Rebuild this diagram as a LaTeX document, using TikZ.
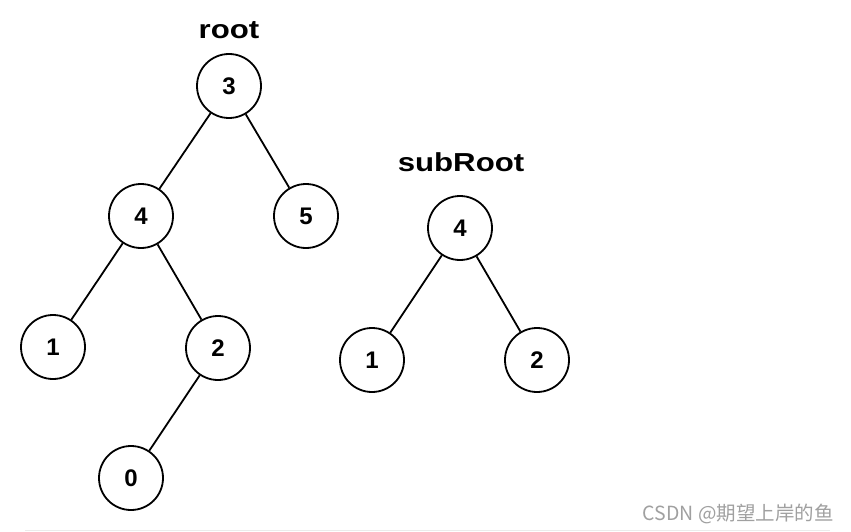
\documentclass[tikz,border=0pt]{standalone}
\usepackage{fontspec}
\setmainfont{Liberation Sans}
\newfontfamily\labfont[FakeStretch=1.2]{Liberation Sans}
\newfontfamily\cjk{Noto Sans CJK SC}
\definecolor{wmgray}{RGB}{160,160,160}
\definecolor{linegray}{RGB}{235,235,235}
\begin{document}
\begin{tikzpicture}[x=1pt,y=-1pt,
  tn/.style={circle,draw=black,line width=1.8pt,minimum size=64pt,inner sep=0pt,
    font=\fontsize{24}{24}\selectfont\bfseries},
  lbl/.style={font=\fontsize{26}{26}\selectfont\labfont\bfseries,inner sep=0pt},
  edge/.style={line width=1.8pt,draw=black}]
\useasboundingbox[fill=white] (0,0) rectangle (851,532);
\node[lbl] (rootlbl) at (229,30) {root};
\node[tn] (r3) at (229,86) {3};
\node[tn] (r4) at (141,216) {4};
\node[tn] (r5) at (306,216) {5};
\node[tn] (r1) at (53,347) {1};
\node[tn] (r2) at (218,348) {2};
\node[tn] (r0) at (131,478) {0};
\draw[edge] (r3) -- (r4);
\draw[edge] (r3) -- (r5);
\draw[edge] (r4) -- (r1);
\draw[edge] (r4) -- (r2);
\draw[edge] (r2) -- (r0);
\node[lbl] (sublbl) at (461,162) {subRoot};
\node[tn] (s4) at (460,228) {4};
\node[tn] (s1) at (372,360) {1};
\node[tn] (s2) at (537,360) {2};
\draw[edge] (s4) -- (s1);
\draw[edge] (s4) -- (s2);
\node[font=\fontsize{19.5}{19.5}\selectfont\cjk,text=wmgray,anchor=east,inner sep=0pt] (wm) at (834,514) {CSDN @期望上岸的鱼};
\coordinate (la) at (25,530.5);
\coordinate (lb) at (830,530.5);
\draw[linegray,line width=1pt] (la) -- (lb);
\end{tikzpicture}
\end{document}
